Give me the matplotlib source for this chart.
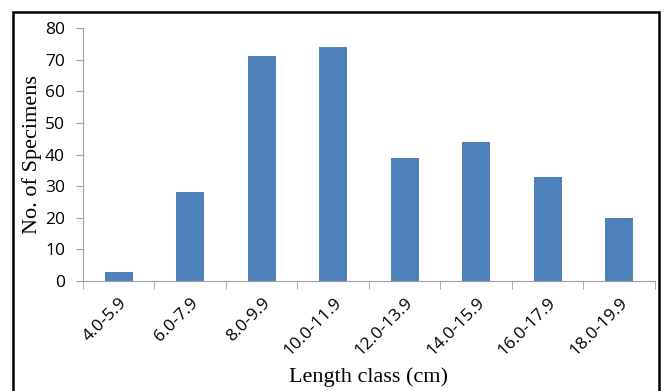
import numpy as np
import matplotlib
matplotlib.use('Agg')
import matplotlib.pyplot as plt
from matplotlib.patches import Rectangle

classes = ['4.0-5.9', '6.0-7.9', '8.0-9.9', '10.0-11.9',
           '12.0-13.9', '14.0-15.9', '16.0-17.9', '18.0-19.9']
counts = [3, 28, 71, 74, 39, 44, 33, 20]

fig = plt.figure(figsize=(6.64, 3.91), dpi=100)
ax = fig.add_axes([0.125, 0.2813, 0.8614, 0.6471])

x = np.arange(len(classes))
ax.bar(x, counts, width=0.39, color='#4F81BD', zorder=2)

ax.set_xlim(-0.5, len(classes) - 0.5)
ax.set_ylim(0, 80)
ax.set_yticks(range(0, 81, 10))
ax.tick_params(axis='y', labelsize=12.5, color='#A0A0A0', length=5,
               direction='out', pad=8)
for lab in ax.get_yticklabels():
    lab.set_family('Open Sans')

# category labels at bar centres, tick marks between categories
ax.set_xticks(x)
ax.set_xticklabels(classes, rotation=45, ha='right', rotation_mode='anchor',
                   fontsize=12.5, family='Open Sans')
ax.tick_params(axis='x', length=0, pad=10)
ax.set_xticks(np.arange(-0.5, len(classes)), minor=True)
ax.tick_params(axis='x', which='minor', length=6, color='#A0A0A0')

for s in ['top', 'right']:
    ax.spines[s].set_visible(False)
for s in ['left', 'bottom']:
    ax.spines[s].set_color('#A0A0A0')

ax.set_ylabel('No. of Specimens', family='Liberation Serif', fontsize=16, labelpad=2)
ax.set_xlabel('Length class (cm)', family='Liberation Serif', fontsize=16, labelpad=6)

# black frame around the chart
fig.patches.append(Rectangle((13 / 664, -0.05), 646 / 664, 1 - 12 / 391 + 0.05,
                             transform=fig.transFigure, fill=False,
                             edgecolor='black', linewidth=1.8))

fig.savefig('out.png', dpi=100)
